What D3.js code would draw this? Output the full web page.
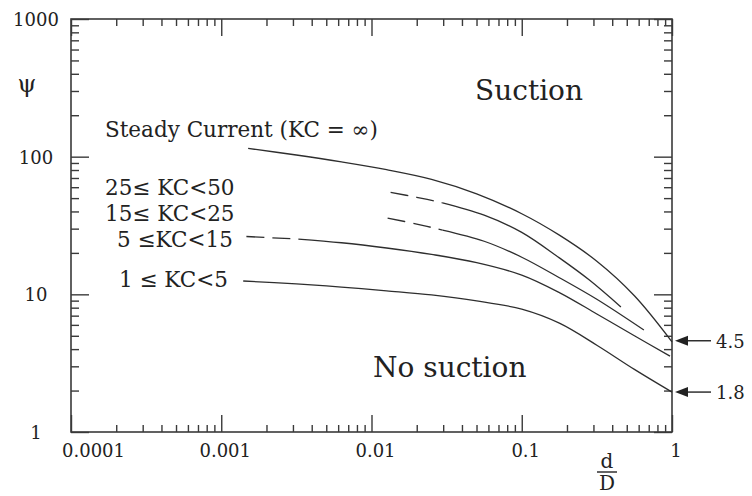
<!DOCTYPE html>
<html>
<head>
<meta charset="utf-8">
<script src="https://cdn.jsdelivr.net/npm/d3@7"></script>
<style>
  body { margin: 0; background: #fff; }
  svg { display: block; font-family: "DejaVu Serif", "Liberation Serif", serif; }
</style>
</head>
<body>
<svg id="chart" width="752" height="496"></svg>
<script>
// d/D vs psi
const steadyCurrent = [[0.00151,114.8],[0.00316,102.8],[0.00631,91.6],[0.0126,80.4],[0.0251,68.4],[0.0501,53.7],[0.1,38.5],[0.178,26.9],[0.316,17.4],[0.562,9.77],[1,4.52]];
const kc25Dashed = [[0.0134,55],[0.02,50.7],[0.0297,46.2]];
const kc25Solid = [[0.0297,46.2],[0.0562,37.6],[0.1,28.2],[0.178,18.4],[0.282,12.7],[0.457,8.1]];
const kc15Dashed = [[0.0128,35.8],[0.02,32.4],[0.0297,29.3]];
const kc15Solid = [[0.0297,29.3],[0.0562,24.3],[0.1,18.6],[0.178,13.2],[0.316,9.2],[0.65,5.5]];
const kc5Dashed = [[0.00147,26.3],[0.00326,25.2]];
const kc5Solid = [[0.00326,25.2],[0.00631,23.7],[0.0126,21.7],[0.0251,19.5],[0.0501,17],[0.1,13.8],[0.178,10.3],[0.316,7.2],[0.562,5.0],[0.97,3.56]];
const kc1Solid = [[0.0014,12.5],[0.00316,11.9],[0.00631,11.3],[0.0126,10.6],[0.0251,9.9],[0.0501,8.97],[0.1,7.8],[0.178,6.17],[0.316,4.27],[0.562,2.85],[1,1.95]];

const xMajor = [0.0001, 0.001, 0.01, 0.1, 1];
const xTickLabels = ["0.0001", "0.001", "0.01", "0.1", "1"];
const yMajor = [1, 10, 100, 1000];
const yTickLabels = ["1", "10", "100", "1000"];

const curveLabels = [
    {text: "Steady Current (KC = \u221e)", x: 105, y: 137},
    {text: "25\u2264 KC<50", x: 105, y: 195},
    {text: "15\u2264 KC<25", x: 105, y: 221},
    {text: "5 \u2264KC<15", x: 117, y: 247},
    {text: "1 \u2264 KC<5", x: 119, y: 287}
];
const arrowMarks = [{label: "4.5", value: 4.6}, {label: "1.8", value: 1.95}];

const svg = d3.select("#chart");

const x = d3.scaleLog().domain([1e-4, 1]).range([71, 672]);
const y = d3.scaleLog().domain([1, 1000]).range([432, 19]);

const isMajor = v => Math.abs(Math.log10(v) - Math.round(Math.log10(v))) < 1e-9;
const xMinor = x.ticks().filter(v => !isMajor(v));
const yMinor = y.ticks().filter(v => !isMajor(v));

const ink = "#3a3a3a";

const addAxis = (axis, transform) => {
    const g = svg.append("g").attr("transform", transform).call(axis);
    g.select(".domain").remove();
    g.selectAll("line").attr("stroke", ink).attr("stroke-width", 1.4);
    g.selectAll("text").remove();
};

// ticks point inward on all four sides
addAxis(d3.axisBottom(x).tickValues(xMinor).tickSize(-7), "translate(0,432)");
addAxis(d3.axisBottom(x).tickValues(xMajor).tickSize(-17), "translate(0,432)");
addAxis(d3.axisTop(x).tickValues(xMinor).tickSize(-7), "translate(0,19)");
addAxis(d3.axisTop(x).tickValues(xMajor).tickSize(-17), "translate(0,19)");
addAxis(d3.axisLeft(y).tickValues(yMinor).tickSize(-8), "translate(71,0)");
addAxis(d3.axisLeft(y).tickValues(yMajor).tickSize(-18), "translate(71,0)");
addAxis(d3.axisRight(y).tickValues(yMinor).tickSize(-8), "translate(672,0)");
addAxis(d3.axisRight(y).tickValues(yMajor).tickSize(-18), "translate(672,0)");

svg.append("rect")
    .attr("x", x(1e-4)).attr("y", y(1000))
    .attr("width", x(1) - x(1e-4)).attr("height", y(1) - y(1000))
    .attr("fill", "none").attr("stroke", ink).attr("stroke-width", 1.6);

// tick labels
svg.selectAll(".xlab").data(xMajor).join("text")
    .attr("class", "xlab")
    .attr("x", (d, i) => i === 0 ? x(d) - 9 : x(d) + 4)
    .attr("y", 457)
    .attr("text-anchor", (d, i) => i === 0 ? "start" : "middle")
    .attr("font-size", 18).attr("fill", "#222")
    .text((d, i) => xTickLabels[i]);

svg.selectAll(".ylab").data(yMajor).join("text")
    .attr("class", "ylab")
    .attr("x", 36)
    .attr("y", d => y(d) + 7)
    .attr("text-anchor", "middle")
    .attr("font-size", 18).attr("fill", "#222")
    .text((d, i) => yTickLabels[i]);

svg.append("text").attr("x", 27).attr("y", 92).attr("text-anchor", "middle")
    .attr("font-size", 24).attr("fill", "#222").text("\u03c8");

// d/D fraction
svg.append("text").attr("x", 607).attr("y", 468).attr("text-anchor", "middle")
    .attr("font-size", 20).attr("fill", "#222").text("d");
svg.append("line").attr("x1", 597).attr("x2", 617).attr("y1", 472).attr("y2", 472)
    .attr("stroke", "#222").attr("stroke-width", 1.4);
svg.append("text").attr("x", 607).attr("y", 490).attr("text-anchor", "middle")
    .attr("font-size", 20).attr("fill", "#222").text("D");

// curves
const line = d3.line().x(d => x(d[0])).y(d => y(d[1])).curve(d3.curveCatmullRom.alpha(0.5));

const pieces = [
    {pts: steadyCurrent, dash: null},
    {pts: kc25Dashed, dash: "18,8"},
    {pts: kc25Solid, dash: null},
    {pts: kc15Dashed, dash: "18,8"},
    {pts: kc15Solid, dash: null},
    {pts: kc5Dashed, dash: "18,8"},
    {pts: kc5Solid, dash: null},
    {pts: kc1Solid, dash: null}
];

svg.selectAll(".curve").data(pieces).join("path")
    .attr("class", "curve")
    .attr("d", p => line(p.pts))
    .attr("fill", "none")
    .attr("stroke", "#2e2e2e")
    .attr("stroke-width", 1.3)
    .attr("stroke-dasharray", p => p.dash);

svg.selectAll(".clab").data(curveLabels).join("text")
    .attr("class", "clab")
    .attr("x", d => d.x).attr("y", d => d.y)
    .attr("font-size", 21.5).attr("fill", "#222")
    .text(d => d.text);

svg.append("text").attr("x", 475).attr("y", 100)
    .attr("font-size", 28).attr("fill", "#222").text("Suction");
svg.append("text").attr("x", 373).attr("y", 377)
    .attr("font-size", 28).attr("fill", "#222").text("No suction");

// arrows at x = 1
const arrowG = svg.selectAll(".arrow").data(arrowMarks).join("g")
    .attr("class", "arrow")
    .attr("transform", d => `translate(0,${y(d.value)})`);
arrowG.append("line").attr("x1", 686).attr("x2", 711).attr("y1", 0).attr("y2", 0)
    .attr("stroke", "#222").attr("stroke-width", 1.4);
arrowG.append("path").attr("d", "M675,0 L688,-5 L688,5 Z").attr("fill", "#222");
arrowG.append("text").attr("x", 716).attr("y", 7)
    .attr("font-size", 18).attr("fill", "#222").text(d => d.label);
</script>
</body>
</html>
